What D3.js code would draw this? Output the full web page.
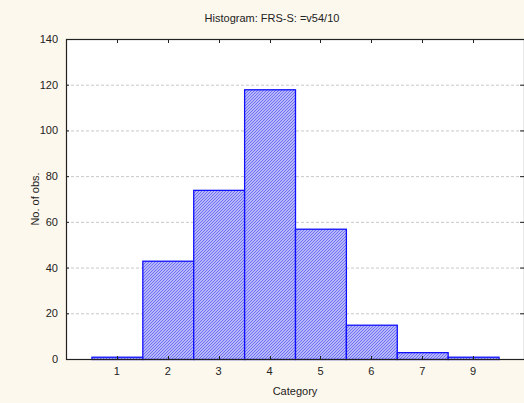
<!DOCTYPE html>
<html><head><meta charset="utf-8">
<script src="https://cdn.jsdelivr.net/npm/d3@7"></script>
<style>body{margin:0;background:#fdf8ed;}svg{display:block;font-family:"Liberation Sans",Arial,sans-serif;}</style>
</head><body>
<script>
const categories = ["1","2","3","4","5","6","7","9"];
const counts = [1, 43, 74, 118, 57, 15, 3, 1];
const yTicks = [0, 20, 40, 60, 80, 100, 120, 140];
const title = "Histogram: FRS-S: =v54/10";
const xLabel = "Category";
const yLabel = "No. of obs.";

const W = 524, H = 403;
const m = {left: 66, top: 39, right: 524, bottom: 359};
const svg = d3.select("body").append("svg").attr("width", W).attr("height", H);
svg.append("rect").attr("width", W).attr("height", H).attr("fill", "#fdf8ed");

const defs = svg.append("defs");
const pat = defs.append("pattern").attr("id", "hatch").attr("patternUnits", "userSpaceOnUse")
  .attr("width", 3).attr("height", 3);
pat.append("rect").attr("width", 3).attr("height", 3).attr("fill", "#d6d6ff");
pat.append("path").attr("d", "M-1,1 l2,-2 M0,3 l3,-3 M2,4 l2,-2")
  .attr("stroke", "#6a6af2").attr("stroke-width", 1.1);

const x = d3.scaleBand().domain(categories).range([m.left, m.right]).paddingInner(0).paddingOuter(0.5);
const y = d3.scaleLinear().domain([0, 140]).range([m.bottom, m.top]);

svg.append("rect").attr("x", m.left).attr("y", m.top).attr("width", m.right - m.left)
  .attr("height", m.bottom - m.top).attr("fill", "#fff");

// gridlines
svg.append("g").selectAll("line").data(yTicks.filter(t => t > 0 && t < 140)).join("line")
  .attr("x1", m.left).attr("x2", m.right).attr("y1", d => y(d) + 0.5).attr("y2", d => y(d) + 0.5)
  .attr("stroke", "#c8c8c8").attr("stroke-dasharray", "3,2");

// bars
svg.append("g").selectAll("rect").data(counts).join("rect")
  .attr("x", (d, i) => x(categories[i]) + 0.5)
  .attr("y", d => y(d) + 0.5)
  .attr("width", x.bandwidth())
  .attr("height", d => y(0) - y(d))
  .attr("fill", "url(#hatch)").attr("stroke", "#1010ff").attr("stroke-width", 1.3);

// axes
const yAxis = d3.axisLeft(y).tickValues(yTicks).tickSize(0).tickPadding(8);
const gy = svg.append("g").attr("transform", `translate(${m.left},0)`).call(yAxis);
gy.select(".domain").remove();
gy.selectAll("text").attr("font-size", 11).attr("fill", "#222").attr("font-family", "Liberation Sans, Arial");

const xAxis = d3.axisBottom(x).tickSize(0).tickPadding(8);
const gx = svg.append("g").attr("transform", `translate(0,${m.bottom})`).call(xAxis);
gx.select(".domain").remove();
gx.selectAll("text").attr("font-size", 11).attr("fill", "#222").attr("font-family", "Liberation Sans, Arial");

// inward ticks
const tk = svg.append("g").attr("stroke", "#222");
categories.forEach(c => {
  const cx = Math.round(x(c) + x.bandwidth() / 2) + 0.5;
  tk.append("line").attr("x1", cx).attr("x2", cx).attr("y1", m.top).attr("y2", m.top + 4);
  tk.append("line").attr("x1", cx).attr("x2", cx).attr("y1", m.bottom).attr("y2", m.bottom - 3);
});
yTicks.forEach(t => {
  tk.append("line").attr("x1", m.left).attr("x2", m.left + 3).attr("y1", y(t) + 0.5).attr("y2", y(t) + 0.5);
  tk.append("line").attr("x1", m.right - 4).attr("x2", m.right).attr("y1", y(t) + 0.5).attr("y2", y(t) + 0.5);
});

// frame
svg.append("rect").attr("x", m.left + 0.5).attr("y", m.top + 0.5).attr("width", m.right - m.left)
  .attr("height", m.bottom - m.top).attr("fill", "none").attr("stroke", "#222").attr("stroke-width", 1.2);

svg.append("text").attr("x", 272).attr("y", 22).attr("text-anchor", "middle")
  .attr("font-size", 11).attr("fill", "#222").text(title);
svg.append("text").attr("x", 295).attr("y", 395).attr("text-anchor", "middle")
  .attr("font-size", 11).attr("fill", "#222").text(xLabel);
svg.append("text").attr("transform", `translate(39,${(m.top + m.bottom) / 2}) rotate(-90)`)
  .attr("text-anchor", "middle").attr("font-size", 11).attr("fill", "#222").text(yLabel);
</script>
</body></html>
